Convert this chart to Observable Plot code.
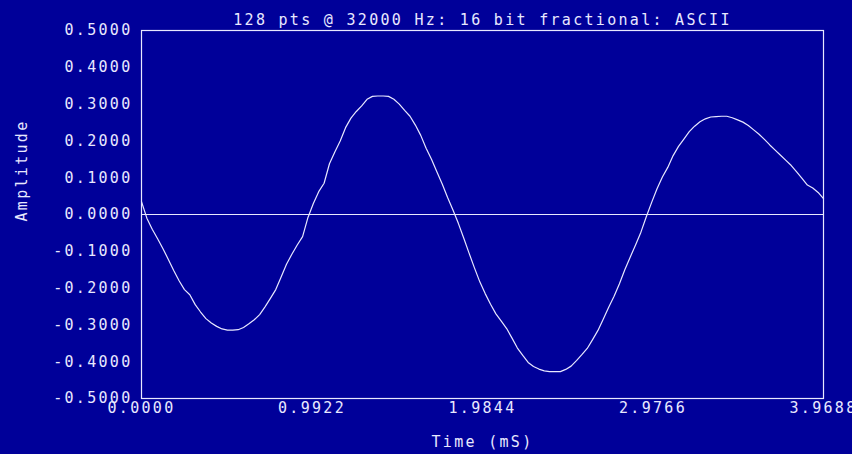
<!DOCTYPE html>
<html>
<head>
<meta charset="utf-8">
<script src="https://cdn.jsdelivr.net/npm/d3@7"></script>
<script src="https://cdn.jsdelivr.net/npm/@observablehq/plot@0.6"></script>
<style>
  html, body { margin: 0; padding: 0; background: #000099; }
</style>
</head>
<body>
<div id="chart"></div>
<script>
const title = "128 pts @ 32000 Hz: 16 bit fractional: ASCII";
const xLabel = "Time (mS)";
const yLabel = "Amplitude";
const sampleRate = 32000;
const xTicks = [0, 0.9922, 1.9844, 2.9766, 3.9688];
const yTicks = [-0.5, -0.4, -0.3, -0.2, -0.1, 0, 0.1, 0.2, 0.3, 0.4, 0.5];
const amplitude = [
  0.035, -0.010, -0.040, -0.066, -0.093, -0.122, -0.152, -0.180, -0.204, -0.218,
  -0.245, -0.265, -0.283, -0.295, -0.304, -0.311, -0.314, -0.314, -0.313, -0.307,
  -0.297, -0.286, -0.272, -0.251, -0.228, -0.204, -0.170, -0.135, -0.108, -0.083,
  -0.060, -0.008, 0.030, 0.062, 0.085, 0.138, 0.170, 0.200, 0.236, 0.262,
  0.280, 0.295, 0.313, 0.321, 0.322, 0.322, 0.321, 0.313, 0.300, 0.283,
  0.267, 0.243, 0.215, 0.180, 0.150, 0.116, 0.083, 0.046, 0.012, -0.024,
  -0.064, -0.105, -0.145, -0.183, -0.215, -0.244, -0.270, -0.290, -0.310, -0.336,
  -0.363, -0.383, -0.402, -0.413, -0.420, -0.425, -0.427, -0.427, -0.427, -0.421,
  -0.412, -0.397, -0.381, -0.364, -0.340, -0.315, -0.284, -0.252, -0.222, -0.188,
  -0.150, -0.116, -0.083, -0.048, -0.006, 0.033, 0.070, 0.102, 0.128, 0.160,
  0.185, 0.205, 0.225, 0.240, 0.252, 0.260, 0.265, 0.266, 0.267, 0.267,
  0.263, 0.257, 0.251, 0.242, 0.230, 0.218, 0.204, 0.189, 0.175, 0.161,
  0.147, 0.133, 0.116, 0.098, 0.080, 0.072, 0.060, 0.043
];

const data = amplitude.map((v, i) => ({t: i * 1000 / sampleRate, v}));
const fg = "#e8e8ff";

const chart = Plot.plot({
  width: 852,
  height: 454,
  marginLeft: 141,
  marginRight: 29,
  marginTop: 30,
  marginBottom: 56,
  style: {
    background: "#000099",
    color: fg,
    fontFamily: "'DejaVu Sans Mono', 'Liberation Mono', monospace",
    fontSize: "15px",
    letterSpacing: "2.3px"
  },
  x: {domain: [0, 3.96875], ticks: xTicks, tickSize: 0, tickPadding: 4, tickFormat: d => d.toFixed(4), label: null},
  y: {domain: [-0.5, 0.5], ticks: yTicks, tickSize: 0, tickPadding: 9, tickFormat: d => d.toFixed(4), label: null},
  marks: [
    Plot.frame({stroke: fg, strokeWidth: 1.2}),
    Plot.ruleY([0], {stroke: fg, strokeWidth: 1.2}),
    Plot.line(data, {x: "t", y: "v", stroke: fg, strokeWidth: 1.2}),
    Plot.text([title], {text: d => d, frameAnchor: "top", dy: -16, fill: fg}),
    Plot.text([xLabel], {text: d => d, frameAnchor: "bottom", dy: 48, fill: fg}),
    Plot.text([yLabel], {text: d => d, frameAnchor: "left", dx: -119, dy: 7, rotate: -90, fill: fg})
  ]
});
document.getElementById("chart").appendChild(chart);
</script>
</body>
</html>
